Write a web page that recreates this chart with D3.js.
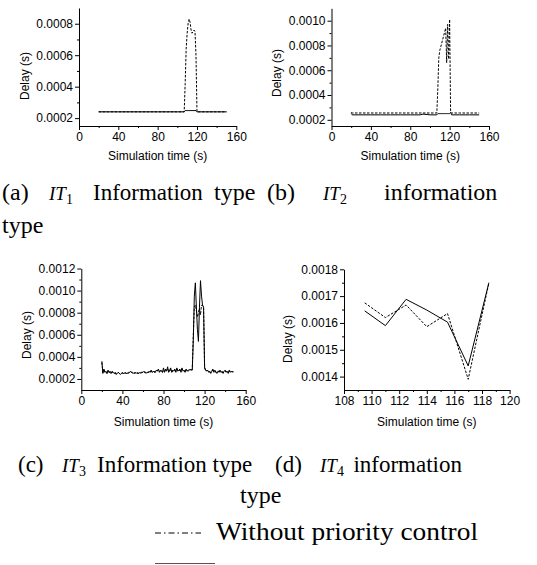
<!DOCTYPE html>
<html><head><meta charset="utf-8">
<script src="https://cdn.jsdelivr.net/npm/d3@7/dist/d3.min.js"></script>
<style>body{margin:0;background:#fff;} svg{display:block;}</style>
</head><body>
<script>
// ---------- DATA ----------
const aTime    = [20,30,40,50,60,70,80,90,100,107,108,109,110,111,112,113,114,115,116,117,118,119,120,130,140,150];
const aWith    = [0.00024,0.00024,0.00024,0.00024,0.00024,0.00024,0.00024,0.00024,0.00024,0.00024,0.000248,0.000248,0.000248,0.000248,0.000248,0.000248,0.000248,0.000248,0.000248,0.000248,0.000248,0.000248,0.00024,0.00024,0.00024,0.00024];
const aWithout = [0.00024,0.00024,0.00024,0.00024,0.00024,0.00024,0.00024,0.00024,0.00024,0.00024,0.00042,0.00064,0.00074,0.00080,0.00083,0.00081,0.00076,0.00074,0.00075,0.00076,0.00075,0.00060,0.00024,0.00024,0.00024,0.00024];

const bTime    = [20,21,30,40,50,60,70,80,90,93,100,107,108,109,110,111,112,113,114,115,116,117,118,119,120,121,122,130,140,150];
const bWith    = [0.000252,0.00024,0.00024,0.00024,0.00024,0.00024,0.00024,0.00024,0.00024,0.000246,0.00024,0.00024,0.00025,0.00025,0.00025,0.00025,0.00025,0.00025,0.00025,0.00025,0.00025,0.00025,0.00025,0.00025,0.00025,0.00026,0.00024,0.00024,0.00024,0.00024];
const bWithout = [0.00026,0.000255,0.000255,0.000255,0.000255,0.000255,0.000255,0.000255,0.000255,0.000255,0.000255,0.000255,0.00045,0.00070,0.00076,0.00079,0.00082,0.00085,0.00088,0.00091,0.00094,0.00066,0.00097,0.00069,0.00101,0.00026,0.000255,0.000255,0.000255,0.000255];

const cTime = d3.range(20, 149); // 20 ... 148 s, one sample per second
const cWith = [
0.00036,0.00025,0.00029,0.00026,0.00027,0.00025,0.00028,0.00026,0.00027,0.00025,
0.00027,0.00026,0.00025,0.00026,0.00024,0.00025,0.00026,0.00025,0.00024,0.00025,
0.00026,0.00025,0.00025,0.00026,0.00025,0.00025,0.00026,0.00026,0.00027,0.00026,
0.00026,0.00025,0.00025,0.00026,0.00025,0.00025,0.00025,0.00026,0.00025,0.00026,
0.00026,0.00027,0.00026,0.00025,0.00026,0.00026,0.00027,0.00026,0.00028,0.00026,
0.00027,0.00026,0.00026,0.00028,0.00027,0.00029,0.00026,0.00028,0.00027,0.00026,
0.00030,0.00026,0.00029,0.00027,0.00031,0.00026,0.00028,0.00030,0.00026,0.00028,
0.00027,0.00029,0.00026,0.00030,0.00027,0.00028,0.00029,0.00026,0.00030,0.00027,
0.00028,0.00026,0.00029,0.00027,0.00028,0.00028,0.00029,0.00028,0.00028,0.00055,
0.00095,0.00107,0.00085,0.00065,0.00054,0.00085,0.00109,0.00095,0.00087,0.00085,
0.00030,0.00028,0.00027,0.00028,0.00026,0.00027,0.00025,0.00027,0.00029,0.00026,
0.00028,0.00026,0.00025,0.00027,0.00026,0.00028,0.00026,0.00027,0.00025,0.00027,
0.00028,0.00026,0.00027,0.00025,0.00028,0.00026,0.00027,0.00026,0.00027];
const cWithout = [
0.00035,0.00026,0.00028,0.00026,0.00026,0.00025,0.00027,0.00026,0.00026,0.00025,
0.00026,0.00026,0.00025,0.00025,0.00025,0.00025,0.00026,0.00025,0.00025,0.00025,
0.00025,0.00025,0.00026,0.00025,0.00025,0.00026,0.00025,0.00026,0.00026,0.00026,
0.00025,0.00025,0.00026,0.00025,0.00025,0.00026,0.00025,0.00025,0.00026,0.00026,
0.00026,0.00026,0.00026,0.00026,0.00025,0.00026,0.00026,0.00027,0.00027,0.00026,
0.00026,0.00027,0.00026,0.00027,0.00028,0.00027,0.00027,0.00027,0.00028,0.00026,
0.00028,0.00027,0.00028,0.00028,0.00029,0.00027,0.00027,0.00029,0.00027,0.00027,
0.00028,0.00028,0.00027,0.00029,0.00028,0.00027,0.00028,0.00027,0.00029,0.00028,
0.00027,0.00027,0.00028,0.00028,0.00027,0.00028,0.00028,0.00028,0.00029,0.00060,
0.00085,0.00087,0.00082,0.00076,0.00080,0.00084,0.00078,0.00087,0.00086,0.00085,
0.00031,0.00027,0.00028,0.00027,0.00027,0.00026,0.00026,0.00027,0.00028,0.00027,
0.00027,0.00026,0.00026,0.00027,0.00027,0.00027,0.00026,0.00026,0.00026,0.00027,
0.00027,0.00027,0.00026,0.00026,0.00027,0.00027,0.00026,0.00027,0.00026];

const dTime    = [109.5,111,112.5,114,115.5,117,118.5];
const dWith    = [0.001645,0.00159,0.001688,0.001648,0.001603,0.00144,0.00175];
const dWithout = [0.001675,0.00162,0.001667,0.001586,0.001635,0.00139,0.00175];

const ticksA = [0.0002,0.0004,0.0006,0.0008];
const ticksB = [0.0002,0.0004,0.0006,0.0008,0.0010];
const ticksC = [0.0002,0.0004,0.0006,0.0008,0.0010,0.0012];
const ticksD = [0.0014,0.0015,0.0016,0.0017,0.0018];
const xTicksABC = [0,40,80,120,160];
const xTicksD = [108,110,112,114,116,118,120];

const legendLabel = "Without priority control";
// -------------------------

const W = 537, H = 565;
const svg = d3.select("body").append("svg").attr("width", W).attr("height", H);
const AX = "Liberation Sans, Arial, sans-serif";
const SERIF = "Liberation Serif, Times New Roman, serif";

function panel(cfg) {
  const x = d3.scaleLinear().domain(cfg.xDom).range(cfg.xR);
  const y = d3.scaleLinear().domain(cfg.yDom).range(cfg.yR);
  const g = svg.append("g");
  g.append("g").attr("transform", `translate(0,${cfg.yR[0]})`)
    .call(d3.axisBottom(x).tickValues(cfg.xMinor).tickSize(2).tickSizeOuter(0).tickFormat(""))
    .call(s => s.select(".domain").remove());
  g.append("g").attr("transform", `translate(${cfg.xR[0]},0)`)
    .call(d3.axisLeft(y).tickValues(cfg.yMinor).tickSize(2).tickSizeOuter(0).tickFormat(""))
    .call(s => s.select(".domain").remove());
  g.append("g").attr("transform", `translate(0,${cfg.yR[0]})`)
    .call(d3.axisBottom(x).tickValues(cfg.xTicks).tickSize(4).tickSizeOuter(0).tickPadding(2).tickFormat(d3.format("d")));
  g.append("g").attr("transform", `translate(${cfg.xR[0]},0)`)
    .call(d3.axisLeft(y).tickValues(cfg.yTicks).tickSize(4).tickSizeOuter(0).tickPadding(2).tickFormat(d3.format(cfg.yFmt)));
  g.selectAll(".tick text").attr("font-family", AX).attr("font-size", 12).attr("fill", "#000");
  g.selectAll("line").attr("stroke", "#000");
  g.selectAll(".domain").attr("stroke", "#000");

  const line = d3.line().x(d => x(d[0])).y(d => y(d[1]));
  const clip = "clip" + cfg.id;
  svg.append("clipPath").attr("id", clip).append("rect")
    .attr("x", cfg.xR[0]).attr("y", cfg.yR[1]).attr("width", cfg.xR[1]-cfg.xR[0]).attr("height", cfg.yR[0]-cfg.yR[1]);
  g.append("path").datum(d3.zip(cfg.t, cfg.without))
    .attr("d", line).attr("fill", "none").attr("stroke", "#000").attr("stroke-width", 1)
    .attr("stroke-dasharray", "2.5,1.5").attr("clip-path", `url(#${clip})`);
  g.append("path").datum(d3.zip(cfg.t, cfg.with))
    .attr("d", line).attr("fill", "none").attr("stroke", "#000").attr("stroke-width", 1)
    .attr("clip-path", `url(#${clip})`);

  g.append("text").attr("x", (cfg.xR[0]+cfg.xR[1])/2).attr("y", cfg.xTitleY)
    .attr("text-anchor", "middle").attr("font-family", AX).attr("font-size", 12)
    .text("Simulation time (s)");
  g.append("text").attr("transform", `translate(${cfg.yTitleX},${cfg.yTitleY}) rotate(-90)`)
    .attr("text-anchor", "middle").attr("font-family", AX).attr("font-size", 12)
    .text("Delay (s)");
}

const minorX = [20,60,100,140];
panel({id:"a", xDom:[0,160], xR:[79,236.3], yDom:[0.00015,0.0009], yR:[126,8],
  xTicks:xTicksABC, xMinor:minorX, yTicks:ticksA, yMinor:[0.0003,0.0005,0.0007], yFmt:".4f",
  t:aTime, with:aWith, without:aWithout, xTitleY:160, yTitleX:29, yTitleY:76});
panel({id:"b", xDom:[0,160], xR:[331.5,489], yDom:[0.00015,0.0011], yR:[126,8.3],
  xTicks:xTicksABC, xMinor:minorX, yTicks:ticksB, yMinor:[0.0003,0.0005,0.0007,0.0009], yFmt:".4f",
  t:bTime, with:bWith, without:bWithout, xTitleY:160, yTitleX:281, yTitleY:73});
panel({id:"c", xDom:[0,160], xR:[81.3,245.7], yDom:[0.0001,0.0012], yR:[390,268.5],
  xTicks:xTicksABC, xMinor:minorX, yTicks:ticksC, yMinor:[0.0003,0.0005,0.0007,0.0009,0.0011], yFmt:".4f",
  t:cTime, with:cWith, without:cWithout, xTitleY:426, yTitleX:31, yTitleY:335});
panel({id:"d", xDom:[108,120], xR:[344,509.6], yDom:[0.00135,0.0018], yR:[390,269.3],
  xTicks:xTicksD, xMinor:[109,111,113,115,117,119], yTicks:ticksD, yMinor:[0.00145,0.00155,0.00165,0.00175], yFmt:".4f",
  t:dTime, with:dWith, without:dWithout, xTitleY:426, yTitleX:292, yTitleY:339});

// ---------- captions ----------
function word(x, y, txt, opts={}) {
  const t = svg.append("text").attr("x", x).attr("y", y).attr("font-family", SERIF)
    .attr("font-size", opts.size || 23).attr("fill", "#000");
  if (opts.anchor) t.attr("text-anchor", opts.anchor);
  if (opts.len) t.attr("textLength", opts.len).attr("lengthAdjust", "spacingAndGlyphs");
  t.text(txt);
  return t;
}
function itLabel(x, y, n) {
  const t = svg.append("text").attr("x", x).attr("y", y).attr("font-family", SERIF).attr("fill", "#000");
  t.append("tspan").attr("font-size", 19).attr("font-style", "italic").text("IT");
  t.append("tspan").attr("font-size", 14).attr("dy", 4).text(n);
}
word(2, 200, "(a)", {size:24});
itLabel(49, 200, "1");
word(93, 200, "Information", {size:23});
word(214, 200, "type", {size:24});
word(267, 200, "(b)", {size:24});
itLabel(323, 200, "2");
word(384, 200, "information", {size:24});
word(2, 233, "type", {size:24});

word(18, 472, "(c)");
itLabel(62, 472, "3");
word(97, 472, "Information type");
word(275, 472, "(d)");
itLabel(320, 472, "4");
word(462, 472, "information", {anchor:"end"});
word(240, 503, "type", {size:24});

// legend
svg.append("line").attr("x1", 155).attr("x2", 201).attr("y1", 533).attr("y2", 533)
  .attr("stroke", "#000").attr("stroke-width", 1).attr("stroke-dasharray", "6,3,1.5,3");
word(216, 540, legendLabel, {size:25, len:262});
svg.append("line").attr("x1", 155).attr("x2", 215).attr("y1", 563.5).attr("y2", 563.5)
  .attr("stroke", "#555").attr("stroke-width", 1);
</script>
</body></html>
